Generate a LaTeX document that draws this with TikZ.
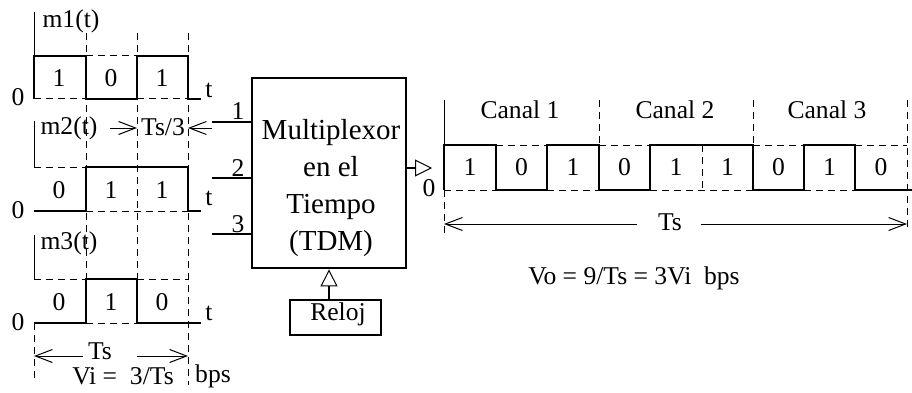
\documentclass[tikz,border=0pt]{standalone}
\usepackage{fontspec}
\setmainfont{Liberation Serif}
\usetikzlibrary{arrows.meta}
\begin{document}
\begin{tikzpicture}[x=1pt,y=-1pt,
  wave/.style={line width=2.8pt, line join=miter},
  thinl/.style={line width=1pt},
  dsh/.style={line width=1pt, dash pattern=on 7pt off 5pt},
  lbl/.style={font=\fontsize{25.6}{28}\selectfont, inner sep=0pt},
  bigl/.style={font=\fontsize{29}{36.7}\selectfont, inner sep=0pt, align=center},
  barb/.style={line width=1pt, -{Straight Barb[length=17pt,width=13pt]}},
  inl/.style={line width=2.8pt},
  boxst/.style={draw, line width=2.8pt, inner sep=0pt},
  opentri/.style={line width=2.4pt, -{Triangle[open,length=17pt,width=17pt,line width=1pt]}}
]
\useasboundingbox (0,0) rectangle (912,393);

% ---------- left: input signals ----------
% dashed grid
\draw[dsh] (86,33) -- (86,279);
\draw[dsh] (137,33) -- (137,279);
\draw[dsh] (188,33) -- (188,385);
\draw[dsh] (34,323) -- (34,378);
% m1
\draw[thinl] (34,12) -- (34,56);
\draw[dsh] (86,56) -- (137,56);
\draw[dsh] (34,99) -- (86,99);
\draw[dsh] (137,99) -- (188,99);
\draw[wave] (34,99) -- (34,56) -- (86,56) -- (86,99) -- (137,99) -- (137,56) -- (188,56) -- (188,99) -- (201,99);
\node[lbl] (m1l) at (71,21) {m1(t)};
\node[lbl] (m1z) at (18,97) {0};
\node[lbl] (m1t) at (209,90) {t};
\node[lbl] (m1a) at (59,78) {1};
\node[lbl] (m1b) at (111,78) {0};
\node[lbl] (m1c) at (162,78) {1};
% m2
\draw[thinl] (34,121) -- (34,167);
\draw[dsh] (34,167) -- (86,167);
\draw[dsh] (86,211) -- (188,211);
\draw[wave] (34,211) -- (86,211) -- (86,167) -- (188,167) -- (188,211) -- (201,211);
\node[lbl] (m2l) at (69,128) {m2(t)};
\node[lbl] (m2z) at (18,210) {0};
\node[lbl] (m2t) at (209,198) {t};
\node[lbl] (m2a) at (59,190) {0};
\node[lbl] (m2b) at (111,190) {1};
\node[lbl] (m2c) at (162,190) {1};
% m3
\draw[thinl] (34,235) -- (34,279);
\draw[dsh] (34,279) -- (86,279);
\draw[dsh] (137,279) -- (188,279);
\draw[dsh] (86,323) -- (137,323);
\draw[wave] (34,323) -- (86,323) -- (86,279) -- (137,279) -- (137,323) -- (201,323);
\node[lbl] (m3l) at (69,243) {m3(t)};
\node[lbl] (m3z) at (18,322) {0};
\node[lbl] (m3t) at (209,313) {t};
\node[lbl] (m3a) at (59,302) {0};
\node[lbl] (m3b) at (111,302) {1};
\node[lbl] (m3c) at (162,302) {0};
% Ts/3
\node[lbl] (ts3) at (163,127) {Ts/3};
\coordinate (ts3l) at (110,128);
\coordinate (ts3r) at (212,128);
\coordinate (ts3lt) at (137,128);
\coordinate (ts3rt) at (188,128);
\draw[barb] (ts3l) -- (ts3lt);
\draw[barb] (ts3r) -- (ts3rt);
% Ts (input)
\node[lbl] (tsi) at (100,351) {Ts};
\coordinate (tsia) at (83,356);
\coordinate (tsib) at (34,356);
\coordinate (tsic) at (137,356);
\coordinate (tsid) at (188,356);
\draw[barb] (tsia) -- (tsib);
\draw[barb] (tsic) -- (tsid);
\node[lbl] (vi) at (123,376) {Vi =\ \ 3/Ts};
\node[lbl] (vibps) at (213,376) {bps};

% ---------- multiplexer ----------
\node[boxst, minimum width=154pt, minimum height=190pt] (mux) at (329,173) {};
\node[bigl] (muxtxt) at (331,188) {Multiplexor\\en el\\Tiempo\\(TDM)};
\coordinate (in1) at (212,122);
\coordinate (in2) at (212,178);
\coordinate (in3) at (212,234);
\draw[inl] (in1) -- (in1 -| mux.west);
\draw[inl] (in2) -- (in2 -| mux.west);
\draw[inl] (in3) -- (in3 -| mux.west);
\node[lbl, anchor=base] (n1) at (238,120) {1};
\node[lbl, anchor=base] (n2) at (238,176) {2};
\node[lbl, anchor=base] (n3) at (238,232) {3};
\coordinate (muxout) at (406,168);
\coordinate (outtip) at (432,168);
\draw[opentri] (muxout) -- (outtip);
% clock
\node[boxst, minimum width=91pt, minimum height=35pt] (reloj) at (335.5,317.5) {};
\node[lbl, anchor=base] (relojtxt) at (338,320) {Reloj};
\draw[opentri, line width=2pt] (reloj.north -| mux.south) -- (mux.south);

% ---------- output signal ----------
\draw[thinl] (444,100) -- (444,145);
\draw[dsh] (599,100) -- (599,145);
\draw[dsh] (753,100) -- (753,145);
\draw[dsh] (907,100) -- (907,230);
\draw[dsh] (444,190) -- (444,238);
\draw[dsh] (702,145) -- (702,190);
% dashed levels
\draw[dsh] (496,145) -- (547,145);
\draw[dsh] (599,145) -- (650,145);
\draw[dsh] (753,145) -- (804,145);
\draw[dsh] (855,145) -- (907,145);
\draw[dsh] (444,190) -- (496,190);
\draw[dsh] (547,190) -- (599,190);
\draw[dsh] (650,190) -- (753,190);
\draw[dsh] (804,190) -- (855,190);
\draw[wave] (444,190) -- (444,145) -- (496,145) -- (496,190) -- (547,190) -- (547,145) -- (599,145) -- (599,190) -- (650,190) -- (650,145) -- (753,145) -- (753,190) -- (804,190) -- (804,145) -- (855,145) -- (855,190) -- (915,190);
\node[lbl] (oz) at (429,188) {0};
\node[lbl] (o1) at (470,167) {1};
\node[lbl] (o2) at (521.5,167) {0};
\node[lbl] (o3) at (573,167) {1};
\node[lbl] (o4) at (624.5,167) {0};
\node[lbl] (o5) at (676,167) {1};
\node[lbl] (o6) at (727.5,167) {1};
\node[lbl] (o7) at (778.5,167) {0};
\node[lbl] (o8) at (829.5,167) {1};
\node[lbl] (o9) at (881,167) {0};
\node[lbl] (c1) at (520,110) {Canal 1};
\node[lbl] (c2) at (675,110) {Canal 2};
\node[lbl] (c3) at (827,110) {Canal 3};
% Ts (output)
\node[lbl] (tso) at (670,222) {Ts};
\coordinate (tsoa) at (637,224);
\coordinate (tsob) at (444,224);
\coordinate (tsoc) at (701,224);
\coordinate (tsod) at (907,224);
\draw[barb] (tsoa) -- (tsob);
\draw[barb] (tsoc) -- (tsod);
\node[lbl] (vo) at (634,278) {Vo = 9/Ts = 3Vi\ \ bps};
\end{tikzpicture}
\end{document}
